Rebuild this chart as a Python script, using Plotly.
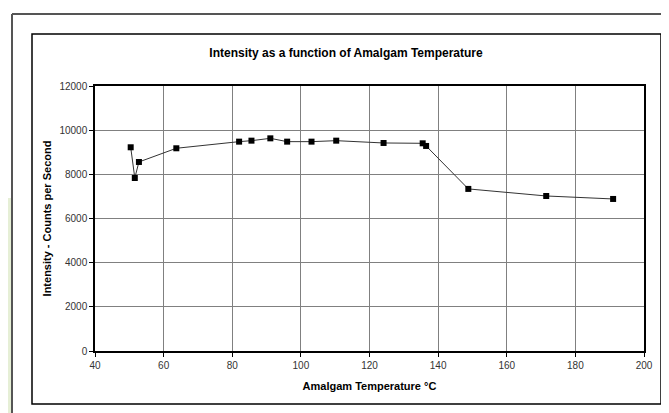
import plotly.graph_objects as go

temperature_c = [50.4, 51.6, 52.8, 63.7, 82.0, 85.6, 91.1, 96.0, 103.1, 110.3, 124.1, 135.5, 136.5, 148.8, 171.5, 191.0]
intensity_cps = [9225, 7835, 8560, 9180, 9480, 9525, 9630, 9480, 9480, 9525, 9420, 9405, 9285, 7340, 7020, 6885]

x_ticks = [40, 60, 80, 100, 120, 140, 160, 180, 200]
y_ticks = [0, 2000, 4000, 6000, 8000, 10000, 12000]

W, H = 669, 413
L, R, T, B = 87, 636, 78, 343

def px(x):
    return (x - L) / (R - L)

def py(y):
    return (B - y) / (B - T)

fig = go.Figure()
fig.add_trace(go.Scatter(
    x=temperature_c, y=intensity_cps, mode="lines+markers",
    line=dict(color="#333333", width=1),
    marker=dict(symbol="square", size=6, color="black"),
    showlegend=False,
))

fnt = "Arial, Liberation Sans, sans-serif"
fig.update_layout(
    width=W, height=H,
    margin=dict(l=L, r=W - R, t=T, b=H - B),
    paper_bgcolor="white", plot_bgcolor="white",
    font=dict(family=fnt, size=10, color="#333333"),
    title=dict(text="<b>Intensity as a function of Amalgam Temperature</b>",
               x=px(338), xref="paper", xanchor="center", y=1 - 45 / H, yanchor="middle",
               font=dict(family=fnt, size=12, color="black")),
    xaxis=dict(range=[40, 200], tickvals=x_ticks, tickformat="d", showgrid=True, gridcolor="#808080", gridwidth=1,
               showline=True, linecolor="black", linewidth=1.5, mirror=True,
               ticks="outside", ticklen=4, tickcolor="black",
               title=dict(text="<b>Amalgam Temperature °C</b>", font=dict(size=11, color="black"), standoff=13),
               zeroline=False),
    yaxis=dict(range=[0, 12000], tickvals=y_ticks, tickformat="d", showgrid=True, gridcolor="#808080", gridwidth=1,
               showline=True, linecolor="black", linewidth=1.5, mirror=True,
               ticks="outside", ticklen=4, tickcolor="black",
               title=dict(text="<b>Intensity - Counts per Second</b>", font=dict(size=11, color="black"), standoff=6),
               zeroline=False),
    shapes=[
        dict(type="rect", xref="paper", yref="paper", x0=px(0), x1=px(4), y0=py(413), y1=py(190),
             line=dict(width=0), fillcolor="#e6efd6", layer="below"),
        dict(type="rect", xref="paper", yref="paper", x0=px(24), x1=px(653), y0=py(396), y1=py(26),
             line=dict(color="black", width=1.5), layer="below"),
        dict(type="line", xref="paper", yref="paper", x0=px(4), x1=px(4), y0=py(6), y1=py(413),
             line=dict(color="#555555", width=2)),
        dict(type="line", xref="paper", yref="paper", x0=px(4), x1=px(669), y0=py(6), y1=py(6),
             line=dict(color="#555555", width=2)),
    ],
)

fig.write_html("out.html")
